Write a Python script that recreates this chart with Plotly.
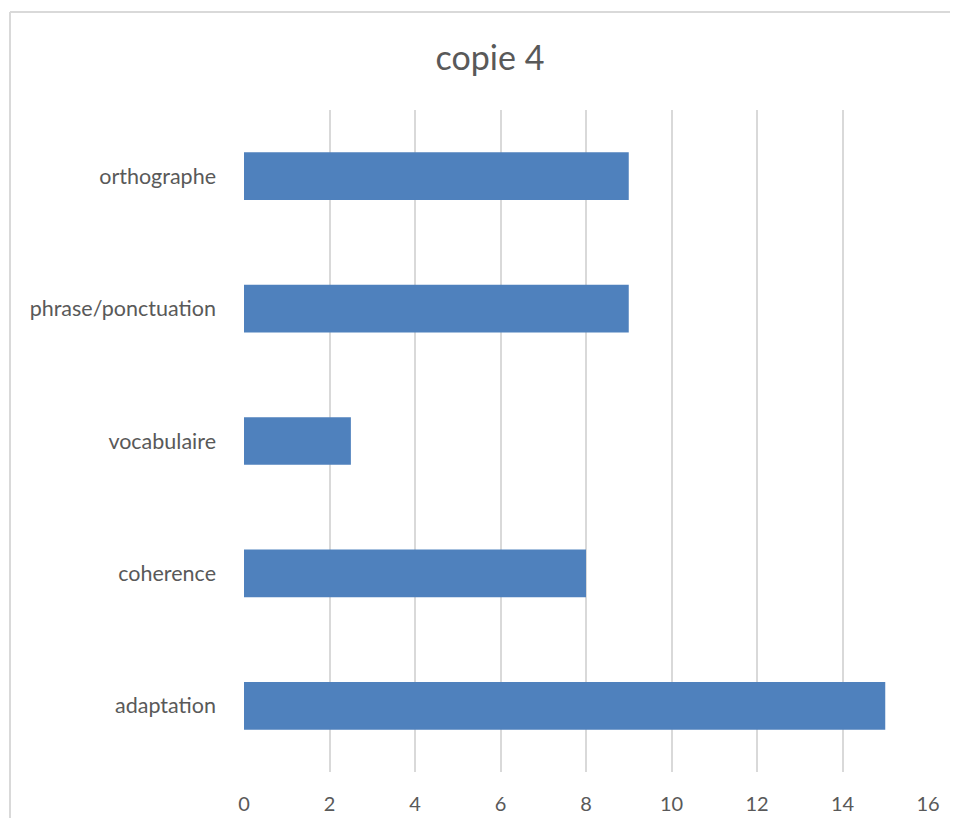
import plotly.graph_objects as go

categories = ["adaptation", "coherence", "vocabulaire", "phrase/ponctuation", "orthographe"]
values = [15, 8, 2.5, 9, 9]
x_ticks = [0, 2, 4, 6, 8, 10, 12, 14, 16]

# page body has an 8px margin; size the figure so the screenshot maps 1:1
OFF = 8
W, H = 958 - 2 * OFF, 826 - 2 * OFF
L, T = 244 - OFF, 110 - OFF
R = W - (928 - OFF)
B = H - (772 - OFF)
pw, ph = W - L - R, H - T - B

fig = go.Figure(go.Bar(
    y=categories, x=values, orientation="h",
    marker=dict(color="#4F81BD", line=dict(width=0)),
))

font_family = "Lato, 'Open Sans', sans-serif"
border = dict(color="#D9D9D9", width=2)
fig.update_layout(
    width=W, height=H,
    margin=dict(l=L, r=R, t=T, b=B, autoexpand=False),
    paper_bgcolor="white", plot_bgcolor="white",
    bargap=0.64,
    showlegend=False,
    title=dict(text="copie 4", x=(490 - OFF) / W, xanchor="center", y=1 - (58 - OFF) / H, yanchor="middle",
               font=dict(family=font_family, size=34, color="#595959")),
    xaxis=dict(range=[0, 16], tickvals=x_ticks, showgrid=True, gridcolor="#D9D9D9", gridwidth=1.5,
               zeroline=False, showline=False, ticks="", automargin=False,
               tickfont=dict(family=font_family, size=20, color="#595959"), ticklabelstandoff=18),
    yaxis=dict(showgrid=False, zeroline=False, showline=False, ticks="", automargin=False,
               tickfont=dict(family=font_family, size=21.5, color="#595959"), ticklabelstandoff=27),
    shapes=[
        dict(type="line", xref="paper", yref="paper",
             x0=(10 - 244) / pw, x1=(10 - 244) / pw, y0=-0.2, y1=(772 - 12) / ph,
             line=border, layer="below"),
        dict(type="line", xref="paper", yref="paper",
             x0=(10 - 244) / pw, x1=1.2, y0=(772 - 12) / ph, y1=(772 - 12) / ph,
             line=border, layer="below"),
    ],
)

fig.write_html("out.html")
